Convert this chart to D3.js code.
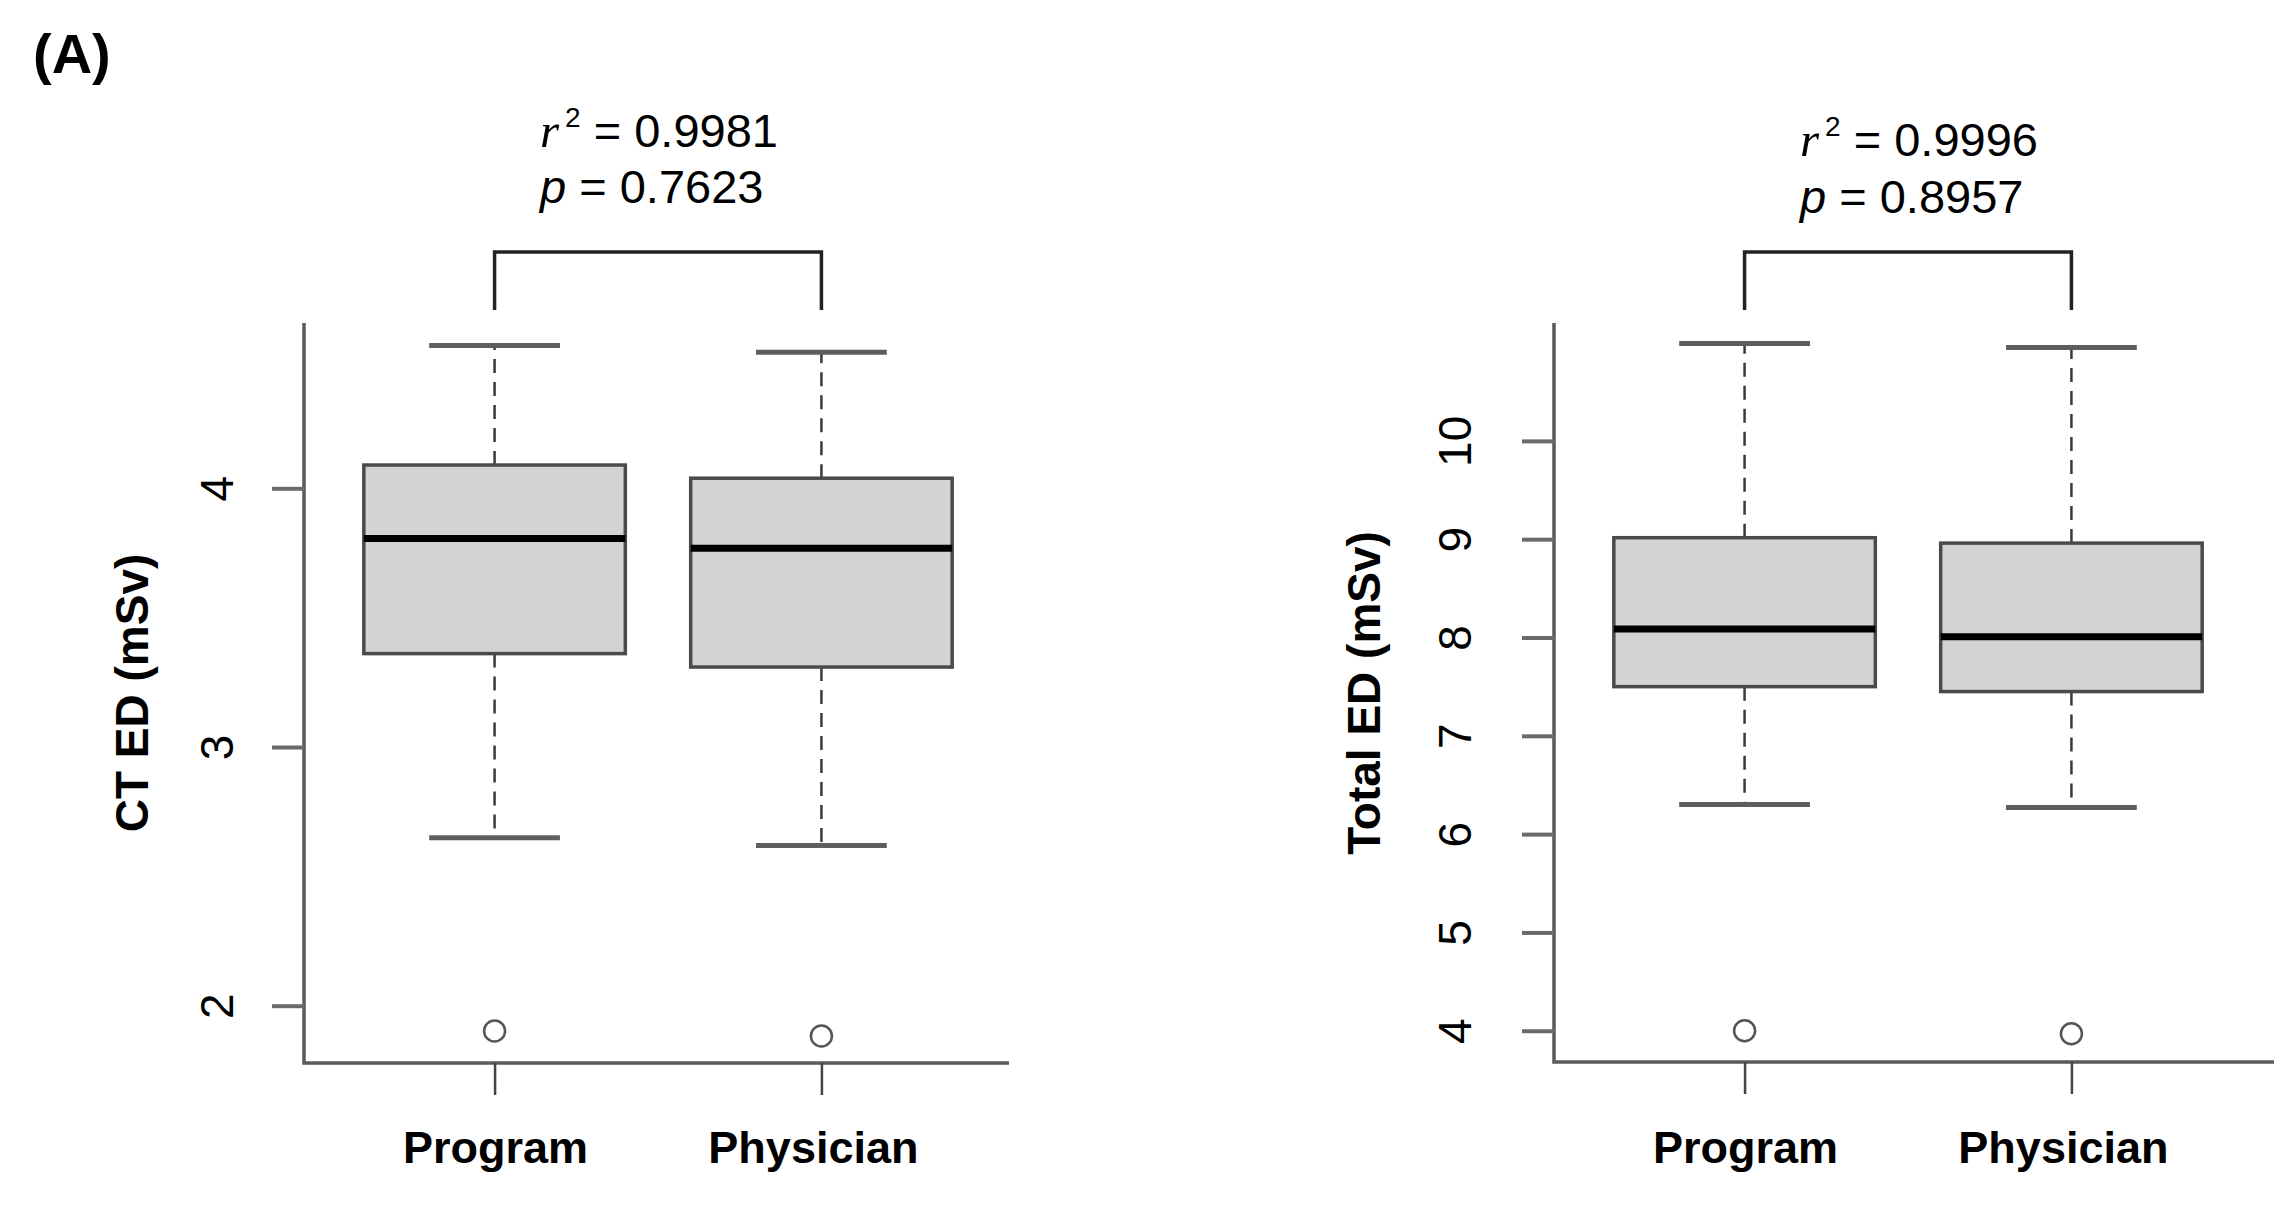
<!DOCTYPE html>
<html>
<head>
<meta charset="utf-8">
<script src="https://cdn.jsdelivr.net/npm/d3@7"></script>
<style>
  html, body { margin: 0; padding: 0; background: #fff; }
  svg { display: block; }
  text { font-family: "Liberation Sans", Arial, sans-serif; fill: #000; }
</style>
</head>
<body>
<svg id="chart" width="2274" height="1215"></svg>
<script>
// ---------------- data ----------------
const categories = ["Program", "Physician"];

// CT ED (mSv)
const ctWhiskerLow  = [2.649, 2.619];
const ctQ1          = [3.361, 3.309];
const ctMedian      = [3.806, 3.768];
const ctQ3          = [4.090, 4.039];
const ctWhiskerHigh = [4.552, 4.526];
const ctOutliers    = [1.902, 1.883];
const ctTicks       = [2, 3, 4];
const ctStatsText   = ["0.9981", "0.7623"];

// Total ED (mSv)
const totWhiskerLow  = [6.30, 6.27];
const totQ1          = [7.50, 7.45];
const totMedian      = [8.086, 8.008];
const totQ3          = [9.015, 8.96];
const totWhiskerHigh = [10.99, 10.95];
const totOutliers    = [4.00, 3.97];
const totTicks       = [4, 5, 6, 7, 8, 9, 10];
const totStatsText   = ["0.9996", "0.8957"];

// ---------------- drawing ----------------
const svg = d3.select("#chart");
const labelShift = [1, -8];   // small horizontal nudge of the category labels

svg.append("text")
  .attr("x", 33).attr("y", 73)
  .attr("font-size", 56).attr("font-weight", "bold")
  .text("(A)");

function panel(cfg) {
  const g = svg.append("g");
  const x = d3.scaleLinear().domain([0.42, 2.58]).range([cfg.left, cfg.right]);
  const y = d3.scaleLinear().domain(cfg.yDomain).range([cfg.bottom, cfg.top]);

  const rows = categories.map((c, i) => ({
    name: c, idx: i + 1, shift: labelShift[i],
    lo: cfg.lo[i], q1: cfg.q1[i], med: cfg.med[i], q3: cfg.q3[i], hi: cfg.hi[i], out: cfg.out[i]
  }));

  // whiskers (dashed)
  g.selectAll(".wup").data(rows).join("line")
    .attr("x1", d => x(d.idx)).attr("x2", d => x(d.idx))
    .attr("y1", d => y(d.q3)).attr("y2", d => y(d.hi))
    .attr("stroke", "#3a3a3a").attr("stroke-width", 2.5).attr("stroke-dasharray", "14,9");
  g.selectAll(".wdn").data(rows).join("line")
    .attr("x1", d => x(d.idx)).attr("x2", d => x(d.idx))
    .attr("y1", d => y(d.q1)).attr("y2", d => y(d.lo))
    .attr("stroke", "#3a3a3a").attr("stroke-width", 2.5).attr("stroke-dasharray", "14,9");

  // staples
  ["hi", "lo"].forEach(k => {
    g.selectAll(".st" + k).data(rows).join("line")
      .attr("x1", d => x(d.idx - 0.2)).attr("x2", d => x(d.idx + 0.2))
      .attr("y1", d => y(d[k])).attr("y2", d => y(d[k]))
      .attr("stroke", "#5e5e5e").attr("stroke-width", 5);
  });

  // boxes
  g.selectAll(".box").data(rows).join("rect")
    .attr("x", d => x(d.idx - 0.4))
    .attr("width", d => x(d.idx + 0.4) - x(d.idx - 0.4))
    .attr("y", d => y(d.q3))
    .attr("height", d => y(d.q1) - y(d.q3))
    .attr("fill", "#d3d3d3").attr("stroke", "#4a4a4a").attr("stroke-width", 3.5);

  // medians
  g.selectAll(".med").data(rows).join("line")
    .attr("x1", d => x(d.idx - 0.4)).attr("x2", d => x(d.idx + 0.4))
    .attr("y1", d => y(d.med)).attr("y2", d => y(d.med))
    .attr("stroke", "#000").attr("stroke-width", 7);

  // outliers
  g.selectAll(".out").data(rows).join("circle")
    .attr("cx", d => x(d.idx)).attr("cy", d => y(d.out))
    .attr("r", 10.5).attr("fill", "none").attr("stroke", "#555").attr("stroke-width", 2.5);

  // L-shaped frame
  g.append("path")
    .attr("d", `M${cfg.left - 1},${cfg.top}V${cfg.bottom}H${cfg.frameRight}`)
    .attr("fill", "none").attr("stroke", "#5a5a5a").attr("stroke-width", 3.5);

  // y axis
  const yAxis = g.append("g").attr("transform", `translate(${cfg.left - 1},0)`)
    .call(d3.axisLeft(y).tickValues(cfg.ticks).tickSize(32).tickFormat(d3.format("d")));
  yAxis.select(".domain").remove();
  yAxis.selectAll(".tick line").attr("stroke", "#6a6a6a").attr("stroke-width", 4);
  yAxis.selectAll(".tick text")
    .attr("x", null).attr("dy", null)
    .attr("text-anchor", "middle")
    .attr("transform", `translate(${-cfg.labelOff},0) rotate(-90)`)
    .attr("font-size", 46).attr("fill", "#1a1a1a")
    .attr("font-family", "Liberation Sans, Arial, sans-serif");

  // x axis
  const xAxis = g.append("g").attr("transform", `translate(0,${cfg.bottom})`)
    .call(d3.axisBottom(x).tickValues([1, 2]).tickSize(32).tickFormat(""));
  xAxis.select(".domain").remove();
  xAxis.selectAll(".tick line").attr("stroke", "#444").attr("stroke-width", 2.5);

  g.selectAll(".xlab").data(rows).join("text")
    .attr("x", d => x(d.idx) + d.shift).attr("y", 1163)
    .attr("text-anchor", "middle")
    .attr("font-size", 45).attr("font-weight", "bold")
    .text(d => d.name);

  // y title
  g.append("text")
    .attr("transform", `translate(${cfg.left - cfg.titleOff},${cfg.titleY}) rotate(-90)`)
    .attr("text-anchor", "middle")
    .attr("font-size", 46).attr("font-weight", "bold")
    .text(cfg.title);

  // comparison bracket
  g.append("path")
    .attr("d", `M${x(1)},310V252H${x(2)}V310`)
    .attr("fill", "none").attr("stroke", "#222").attr("stroke-width", 3.5);

  // stats
  const t1 = g.append("text").attr("x", cfg.textX).attr("y", cfg.textY1).attr("font-size", 47);
  t1.append("tspan").attr("font-family", "Liberation Serif, Times New Roman, serif")
    .attr("font-style", "italic").attr("font-size", 49).text("r");
  t1.append("tspan").attr("font-size", 28).attr("dx", 6).attr("dy", -20).text("2");
  t1.append("tspan").attr("dy", 20).text(" = " + cfg.stats[0]);

  const t2 = g.append("text").attr("x", cfg.textX).attr("y", cfg.textY2).attr("font-size", 47);
  t2.append("tspan").attr("font-style", "italic").text("p");
  t2.append("tspan").text(" = " + cfg.stats[1]);
}

panel({
  left: 305, right: 1011, frameRight: 1009, top: 323, bottom: 1063,
  yDomain: [1.7785, 4.639],
  lo: ctWhiskerLow, q1: ctQ1, med: ctMedian, q3: ctQ3, hi: ctWhiskerHigh, out: ctOutliers,
  ticks: ctTicks, labelOff: 71, title: "CT ED (mSv)", titleOff: 157, titleY: 693,
  stats: ctStatsText, textX: 540, textY1: 147, textY2: 203
});

panel({
  left: 1555, right: 2261, frameRight: 2274, top: 323, bottom: 1062,
  yDomain: [3.682, 11.199],
  lo: totWhiskerLow, q1: totQ1, med: totMedian, q3: totQ3, hi: totWhiskerHigh, out: totOutliers,
  ticks: totTicks, labelOff: 83, title: "Total ED (mSv)", titleOff: 175, titleY: 693,
  stats: totStatsText, textX: 1800, textY1: 156, textY2: 213
});
</script>
</body>
</html>
